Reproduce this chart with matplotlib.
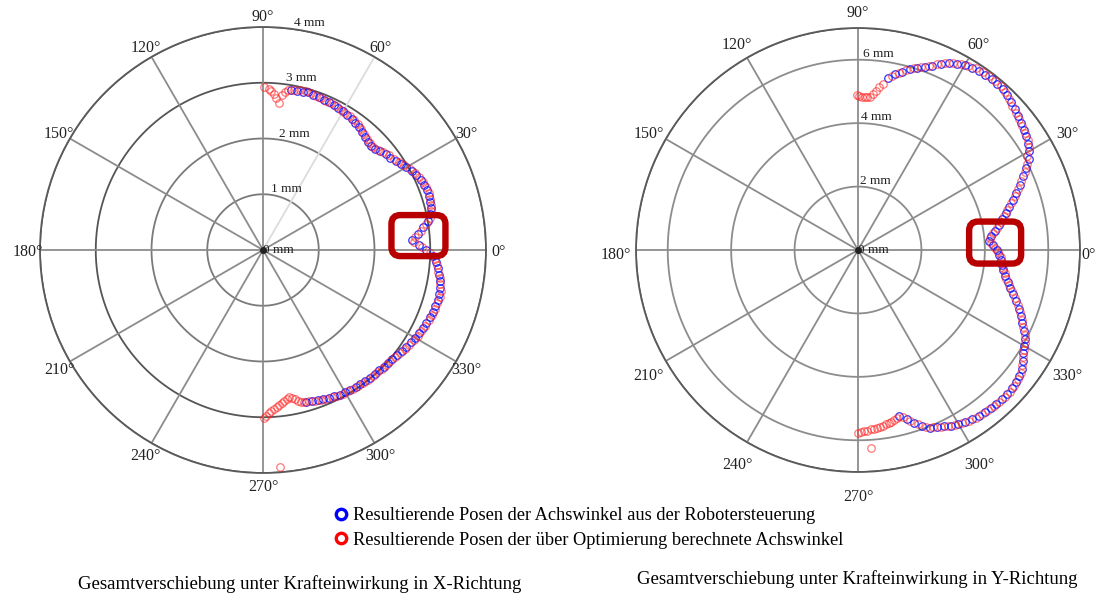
import numpy as np
import matplotlib
matplotlib.use("Agg")
import matplotlib.pyplot as plt
from matplotlib.lines import Line2D
from matplotlib.patches import FancyBboxPatch
from matplotlib.transforms import IdentityTransform, offset_copy

plt.rcParams['font.family'] = ['Liberation Serif', 'DejaVu Serif']

# ---------------- data (angles in degrees, displacement in mm) ----------------
# X-direction load: robot-controller poses (blue), sampled every 2 deg from 80 deg downwards
x_ctrl_start = 80.0
x_ctrl_r = [2.91, 2.92, 2.93, 2.94, 2.93, 2.92, 2.91, 2.90, 2.89, 2.88,
            2.87, 2.85, 2.84, 2.82, 2.80, 2.77, 2.73, 2.70, 2.69, 2.71,
            2.75, 2.79, 2.82, 2.87, 2.92, 2.97, 3.02, 3.06, 3.10, 3.12,
            3.13, 3.13, 3.12, 3.10, 3.07, 3.00, 2.90, 2.79, 2.68, 2.80,
            2.93, 3.05, 3.11, 3.15, 3.18, 3.22, 3.25, 3.26, 3.26, 3.25,
            3.24, 3.23, 3.21, 3.19, 3.17, 3.15, 3.13, 3.10, 3.08, 3.05,
            3.03, 3.02, 3.01, 3.00, 2.99, 2.99, 2.98, 2.97, 2.97, 2.96,
            2.95, 2.94, 2.92, 2.90, 2.89, 2.87, 2.85, 2.83]

# X-direction load: optimised joint angles (red), every 2 deg from 79 deg downwards
x_opt_start = 79.0
x_opt_r = [2.93, 2.94, 2.95, 2.94, 2.93, 2.92, 2.91, 2.90, 2.90, 2.88,
           2.87, 2.86, 2.84, 2.82, 2.79, 2.76, 2.73, 2.71, 2.71, 2.74,
           2.78, 2.82, 2.86, 2.91, 2.96, 3.01, 3.05, 3.09, 3.12, 3.14,
           3.14, 3.14, 3.12, 3.09, 3.05, 2.96, 2.85, 2.73, 2.72, 2.86,
           2.99, 3.09, 3.14, 3.17, 3.21, 3.24, 3.27, 3.28, 3.27, 3.26,
           3.25, 3.23, 3.21, 3.19, 3.17, 3.15, 3.12, 3.10, 3.07, 3.05,
           3.03, 3.02, 3.01, 3.00, 3.00, 2.99, 2.98, 2.97, 2.97, 2.96,
           2.95, 2.93, 2.91, 2.90, 2.88, 2.86, 2.84]
# optimised poses beyond the controller range (top and bottom ends)
x_opt_tail_deg = [89.5, 88.0, 87.0, 86.0, 85.0, 84.0, 83.0, 82.0, 81.0,
                  -75.0, -76.0, -77.0, -78.0, -79.0, -80.0, -81.0, -82.0, -83.0,
                  -84.0, -85.0, -86.0, -87.0, -88.0, -89.0, -89.7, -85.5]
x_opt_tail_r = [2.93, 2.89, 2.86, 2.80, 2.73, 2.66, 2.80, 2.87, 2.90,
                2.82, 2.81, 2.78, 2.74, 2.70, 2.68, 2.70, 2.73, 2.76,
                2.79, 2.83, 2.86, 2.89, 2.93, 2.97, 3.02, 3.91]

# Y-direction load: robot-controller poses (blue), every 2 deg from 80 deg downwards
y_ctrl_start = 80.0
y_ctrl_r = [5.50, 5.66, 5.80, 5.93, 6.04, 6.15, 6.27, 6.42, 6.57, 6.66,
            6.72, 6.77, 6.80, 6.82, 6.84, 6.84, 6.83, 6.78, 6.72, 6.65,
            6.58, 6.52, 6.46, 6.40, 6.33, 6.22, 6.09, 5.90, 5.70, 5.50,
            5.30, 5.13, 4.96, 4.81, 4.65, 4.50, 4.35, 4.22, 4.13, 4.25,
            4.37, 4.46, 4.52, 4.57, 4.62, 4.70, 4.82, 4.95, 5.09, 5.24,
            5.40, 5.53, 5.66, 5.84, 5.98, 6.05, 6.15, 6.27, 6.38, 6.45,
            6.49, 6.52, 6.53, 6.53, 6.52, 6.51, 6.50, 6.48, 6.44, 6.39,
            6.33, 6.27, 6.19, 6.12, 6.04, 5.90, 5.72, 5.55, 5.38]

# Y-direction load: optimised joint angles (red), every 2 deg from 79 deg downwards
y_opt_start = 79.0
y_opt_r = [5.60, 5.74, 5.88, 6.00, 6.10, 6.22, 6.36, 6.50, 6.63, 6.70,
           6.76, 6.84, 6.86, 6.86, 6.87, 6.85, 6.80, 6.74, 6.66, 6.60,
           6.54, 6.48, 6.44, 6.38, 6.30, 6.10, 5.98, 5.80, 5.60, 5.40,
           5.22, 5.05, 4.88, 4.73, 4.58, 4.43, 4.30, 4.18, 4.20, 4.33,
           4.42, 4.50, 4.56, 4.60, 4.68, 4.76, 4.90, 5.02, 5.18, 5.32,
           5.48, 5.62, 5.74, 5.92, 6.03, 6.10, 6.22, 6.33, 6.42, 6.48,
           6.52, 6.55, 6.55, 6.54, 6.52, 6.51, 6.49, 6.46, 6.42, 6.36,
           6.30, 6.23, 6.16, 6.08, 5.98, 5.81, 5.64, 5.45]
y_opt_tail_deg = [90.4, 89.5, 88.5, 87.5, 86.5, 85.5, 84.5, 83.5, 82.5, 81.5,
                  -77.0, -78.0, -79.0, -80.0, -81.0, -82.0, -83.0, -84.0,
                  -85.0, -86.0, -87.0, -88.0, -89.0, -90.0, -86.2]
y_opt_tail_r = [4.90, 4.87, 4.84, 4.83, 4.82, 4.84, 4.95, 5.06, 5.18, 5.30,
                5.44, 5.48, 5.51, 5.54, 5.57, 5.59, 5.61, 5.63,
                5.65, 5.67, 5.70, 5.72, 5.74, 5.76, 6.25]

angle_ticks = list(range(0, 360, 30))
x_rings = [1, 2, 3, 4]
y_rings = [2, 4, 6, 7]
x_ring_labels = ["0 mm", "1 mm", "2 mm", "3 mm", "4 mm"]
y_ring_labels = ["0 mm", "2 mm", "4 mm", "6 mm"]

legend_labels = ["Resultierende Posen der Achswinkel aus der Robotersteuerung",
                 "Resultierende Posen der über Optimierung berechnete Achswinkel"]
titles = ["Gesamtverschiebung unter Krafteinwirkung in X-Richtung",
          "Gesamtverschiebung unter Krafteinwirkung in Y-Richtung"]

BLUE = "#1010ff"
RED = "#ff2020"
BOX = "#b80000"


def series_theta(start, values, step=2.0):
    return np.deg2rad(start - step * np.arange(len(values)))


def setup_polar(fig, ax, rmax, rings, ring_colors, spoke_colors, label_vals, labels,
                label_ang, tick_pad, tick_drop, pad_overrides):
    ax.set_theta_zero_location('E')
    ax.set_ylim(0, rmax)
    ax.grid(False)
    ax.set_xticks([])
    ax.set_yticks([])
    ax.spines['polar'].set_color('#5a5a5a')
    ax.spines['polar'].set_linewidth(1.3)
    th = np.linspace(0, 2 * np.pi, 721)
    for r, c in zip(rings, ring_colors):
        ax.plot(th, np.full_like(th, r), color=c, lw=1.3, zorder=1)
    tick_tr = offset_copy(ax.transData, fig=fig, x=0, y=-tick_drop, units='dots')
    for a in angle_ticks:
        ax.plot([np.deg2rad(a)] * 2, [0, rmax], color=spoke_colors.get(a, '#8c8c8c'),
                lw=1.3, zorder=1)
        ax.text(np.deg2rad(a), rmax * pad_overrides.get(a, tick_pad), f"{a}°",
                ha='center', va='center', fontsize=11.5, color='#222222',
                transform=tick_tr)
    for v, lab in zip(label_vals, labels):
        ax.text(np.deg2rad(label_ang) if v > 0 else 0.0, v, lab, ha='left',
                va='bottom' if v > 0 else 'center',
                fontsize=9.5, color='#222222', zorder=5)
    ax.plot([0], [0], 'o', color='#222222', ms=4, zorder=6)


def highlight(fig, ax, theta_deg, r, w, h):
    cx, cy = ax.transData.transform((np.deg2rad(theta_deg), r))
    box = FancyBboxPatch((cx - w / 2, cy - h / 2), w, h,
                         boxstyle="round,pad=0,rounding_size=9",
                         transform=IdentityTransform(), fill=False,
                         ec=BOX, lw=4.6, zorder=10)
    fig.add_artist(box)


fig = plt.figure(figsize=(11.01, 5.96), dpi=100)
fig.patch.set_facecolor('white')

ax1 = fig.add_axes([40 / 1101, 123 / 596, 446 / 1101, 446 / 596], projection='polar')
ax2 = fig.add_axes([636 / 1101, 124 / 596, 444 / 1101, 444 / 596], projection='polar')

setup_polar(fig, ax1, 4, x_rings, ['#7a7a7a', '#7a7a7a', '#555555', '#5a5a5a'],
            {60: '#dcdcdc'}, [0, 1, 2, 3, 4], x_ring_labels, 82, 1.055, 2, {})
setup_polar(fig, ax2, 7, y_rings, ['#8c8c8c', '#8c8c8c', '#8c8c8c', '#5a5a5a'],
            {}, [0, 2, 4, 6], y_ring_labels, 88.5, 1.09, 5, {0: 1.04})

mk = dict(ls='none', marker='o', mfc='none', ms=5.4, mew=0.9)

ax1.plot(series_theta(x_ctrl_start, x_ctrl_r), x_ctrl_r, color=BLUE, alpha=0.85, zorder=3, **mk)
ax1.plot(series_theta(x_opt_start, x_opt_r), x_opt_r, color=RED, alpha=0.6, zorder=4, **mk)
ax1.plot(np.deg2rad(x_opt_tail_deg), x_opt_tail_r, color=RED, alpha=0.6, zorder=4, **mk)

ax2.plot(series_theta(y_ctrl_start, y_ctrl_r), y_ctrl_r, color=BLUE, alpha=0.85, zorder=3, **mk)
ax2.plot(series_theta(y_opt_start, y_opt_r), y_opt_r, color=RED, alpha=0.6, zorder=4, **mk)
ax2.plot(np.deg2rad(y_opt_tail_deg), y_opt_tail_r, color=RED, alpha=0.6, zorder=4, **mk)

highlight(fig, ax1, 5.3, 2.80, 54, 41)
highlight(fig, ax2, 3.1, 4.33, 52, 42)

handles = [Line2D([], [], ls='none', marker='o', mfc='none', mec='#0000ff', mew=2.4, ms=7.5),
           Line2D([], [], ls='none', marker='o', mfc='none', mec='#ff0000', mew=2.4, ms=7.5)]
fig.legend(handles, legend_labels, loc='center', bbox_to_anchor=(588 / 1101, 1 - 528 / 596),
           frameon=False, fontsize=13.2, handletextpad=0.15, labelspacing=0.42,
           handlelength=1.0, borderpad=0)

fig.text(300 / 1101, 1 - 584 / 596, titles[0], ha='center', va='center', fontsize=13.5)
fig.text(857 / 1101, 1 - 579 / 596, titles[1], ha='center', va='center', fontsize=13.5)

fig.savefig("out.png", dpi=100, facecolor='white')
